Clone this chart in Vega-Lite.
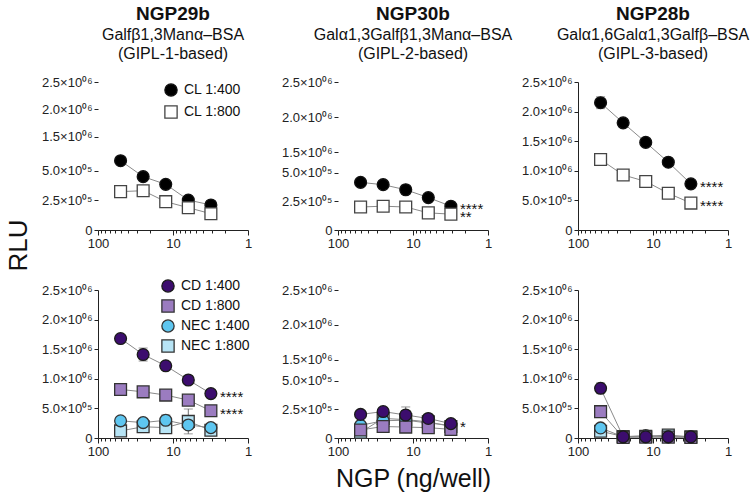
{
  "$schema": "https://vega.github.io/schema/vega-lite/v6.json",
  "background": "white",
  "padding": 5,
  "config": {
    "font": "Liberation Sans",
    "view": {"stroke": null},
    "axis": {"grid": false, "domainColor": "#222", "tickColor": "#222", "labelColor": "#222", "labelFont": "Liberation Sans", "titleColor": "#111", "titleFont": "Liberation Sans", "titleFontWeight": "normal"},
    "legend": {"labelFont": "Liberation Sans"}
  },
  "data": {"values": [
    {"ngp":"NGP29b","grp":"CL","series":"CL 1:400","ng":50,"rlu":587000,"sem":0,"sig":""},
    {"ngp":"NGP29b","grp":"CL","series":"CL 1:400","ng":25,"rlu":452000,"sem":0,"sig":""},
    {"ngp":"NGP29b","grp":"CL","series":"CL 1:400","ng":12.5,"rlu":387000,"sem":0,"sig":""},
    {"ngp":"NGP29b","grp":"CL","series":"CL 1:400","ng":6.25,"rlu":254000,"sem":0,"sig":""},
    {"ngp":"NGP29b","grp":"CL","series":"CL 1:400","ng":3.125,"rlu":212000,"sem":0,"sig":""},
    {"ngp":"NGP29b","grp":"CL","series":"CL 1:800","ng":50,"rlu":325000,"sem":0,"sig":""},
    {"ngp":"NGP29b","grp":"CL","series":"CL 1:800","ng":25,"rlu":333000,"sem":0,"sig":""},
    {"ngp":"NGP29b","grp":"CL","series":"CL 1:800","ng":12.5,"rlu":240000,"sem":0,"sig":""},
    {"ngp":"NGP29b","grp":"CL","series":"CL 1:800","ng":6.25,"rlu":189000,"sem":0,"sig":""},
    {"ngp":"NGP29b","grp":"CL","series":"CL 1:800","ng":3.125,"rlu":138000,"sem":0,"sig":""},

    {"ngp":"NGP30b","grp":"CL","series":"CL 1:400","ng":50,"rlu":414000,"sem":0,"sig":""},
    {"ngp":"NGP30b","grp":"CL","series":"CL 1:400","ng":25,"rlu":394000,"sem":0,"sig":""},
    {"ngp":"NGP30b","grp":"CL","series":"CL 1:400","ng":12.5,"rlu":350000,"sem":40000,"sig":""},
    {"ngp":"NGP30b","grp":"CL","series":"CL 1:400","ng":6.25,"rlu":282000,"sem":0,"sig":""},
    {"ngp":"NGP30b","grp":"CL","series":"CL 1:400","ng":3.125,"rlu":207000,"sem":0,"sig":"****"},
    {"ngp":"NGP30b","grp":"CL","series":"CL 1:800","ng":50,"rlu":200000,"sem":0,"sig":""},
    {"ngp":"NGP30b","grp":"CL","series":"CL 1:800","ng":25,"rlu":207000,"sem":0,"sig":""},
    {"ngp":"NGP30b","grp":"CL","series":"CL 1:800","ng":12.5,"rlu":200000,"sem":15000,"sig":""},
    {"ngp":"NGP30b","grp":"CL","series":"CL 1:800","ng":6.25,"rlu":149000,"sem":0,"sig":""},
    {"ngp":"NGP30b","grp":"CL","series":"CL 1:800","ng":3.125,"rlu":138000,"sem":0,"sig":"**"},

    {"ngp":"NGP28b","grp":"CL","series":"CL 1:400","ng":50,"rlu":2150000,"sem":100000,"sig":""},
    {"ngp":"NGP28b","grp":"CL","series":"CL 1:400","ng":25,"rlu":1810000,"sem":0,"sig":""},
    {"ngp":"NGP28b","grp":"CL","series":"CL 1:400","ng":12.5,"rlu":1480000,"sem":70000,"sig":""},
    {"ngp":"NGP28b","grp":"CL","series":"CL 1:400","ng":6.25,"rlu":1145000,"sem":0,"sig":""},
    {"ngp":"NGP28b","grp":"CL","series":"CL 1:400","ng":3.125,"rlu":780000,"sem":0,"sig":"****"},
    {"ngp":"NGP28b","grp":"CL","series":"CL 1:800","ng":50,"rlu":1190000,"sem":0,"sig":""},
    {"ngp":"NGP28b","grp":"CL","series":"CL 1:800","ng":25,"rlu":930000,"sem":0,"sig":""},
    {"ngp":"NGP28b","grp":"CL","series":"CL 1:800","ng":12.5,"rlu":820000,"sem":0,"sig":""},
    {"ngp":"NGP28b","grp":"CL","series":"CL 1:800","ng":6.25,"rlu":620000,"sem":0,"sig":""},
    {"ngp":"NGP28b","grp":"CL","series":"CL 1:800","ng":3.125,"rlu":455000,"sem":0,"sig":"****"},

    {"ngp":"NGP29b","grp":"CDNEC","series":"NEC 1:800","ng":50,"rlu":120000,"sem":0,"sig":""},
    {"ngp":"NGP29b","grp":"CDNEC","series":"NEC 1:800","ng":25,"rlu":190000,"sem":0,"sig":""},
    {"ngp":"NGP29b","grp":"CDNEC","series":"NEC 1:800","ng":12.5,"rlu":175000,"sem":0,"sig":""},
    {"ngp":"NGP29b","grp":"CDNEC","series":"NEC 1:800","ng":6.25,"rlu":280000,"sem":210000,"sig":""},
    {"ngp":"NGP29b","grp":"CDNEC","series":"NEC 1:800","ng":3.125,"rlu":130000,"sem":0,"sig":""},
    {"ngp":"NGP29b","grp":"CDNEC","series":"NEC 1:400","ng":50,"rlu":290000,"sem":0,"sig":""},
    {"ngp":"NGP29b","grp":"CDNEC","series":"NEC 1:400","ng":25,"rlu":260000,"sem":0,"sig":""},
    {"ngp":"NGP29b","grp":"CDNEC","series":"NEC 1:400","ng":12.5,"rlu":300000,"sem":90000,"sig":""},
    {"ngp":"NGP29b","grp":"CDNEC","series":"NEC 1:400","ng":6.25,"rlu":220000,"sem":0,"sig":""},
    {"ngp":"NGP29b","grp":"CDNEC","series":"NEC 1:400","ng":3.125,"rlu":175000,"sem":0,"sig":""},
    {"ngp":"NGP29b","grp":"CDNEC","series":"CD 1:800","ng":50,"rlu":820000,"sem":0,"sig":""},
    {"ngp":"NGP29b","grp":"CDNEC","series":"CD 1:800","ng":25,"rlu":780000,"sem":0,"sig":""},
    {"ngp":"NGP29b","grp":"CDNEC","series":"CD 1:800","ng":12.5,"rlu":725000,"sem":0,"sig":""},
    {"ngp":"NGP29b","grp":"CDNEC","series":"CD 1:800","ng":6.25,"rlu":640000,"sem":0,"sig":""},
    {"ngp":"NGP29b","grp":"CDNEC","series":"CD 1:800","ng":3.125,"rlu":460000,"sem":0,"sig":"****"},
    {"ngp":"NGP29b","grp":"CDNEC","series":"CD 1:400","ng":50,"rlu":1680000,"sem":60000,"sig":""},
    {"ngp":"NGP29b","grp":"CDNEC","series":"CD 1:400","ng":25,"rlu":1410000,"sem":110000,"sig":""},
    {"ngp":"NGP29b","grp":"CDNEC","series":"CD 1:400","ng":12.5,"rlu":1220000,"sem":0,"sig":""},
    {"ngp":"NGP29b","grp":"CDNEC","series":"CD 1:400","ng":6.25,"rlu":980000,"sem":0,"sig":""},
    {"ngp":"NGP29b","grp":"CDNEC","series":"CD 1:400","ng":3.125,"rlu":750000,"sem":0,"sig":"****"},

    {"ngp":"NGP30b","grp":"CDNEC","series":"NEC 1:800","ng":50,"rlu":50000,"sem":0,"sig":""},
    {"ngp":"NGP30b","grp":"CDNEC","series":"NEC 1:800","ng":25,"rlu":170000,"sem":0,"sig":""},
    {"ngp":"NGP30b","grp":"CDNEC","series":"NEC 1:800","ng":12.5,"rlu":160000,"sem":0,"sig":""},
    {"ngp":"NGP30b","grp":"CDNEC","series":"NEC 1:800","ng":6.25,"rlu":140000,"sem":0,"sig":""},
    {"ngp":"NGP30b","grp":"CDNEC","series":"NEC 1:800","ng":3.125,"rlu":100000,"sem":0,"sig":""},
    {"ngp":"NGP30b","grp":"CDNEC","series":"NEC 1:400","ng":50,"rlu":110000,"sem":0,"sig":""},
    {"ngp":"NGP30b","grp":"CDNEC","series":"NEC 1:400","ng":25,"rlu":150000,"sem":0,"sig":""},
    {"ngp":"NGP30b","grp":"CDNEC","series":"NEC 1:400","ng":12.5,"rlu":155000,"sem":0,"sig":""},
    {"ngp":"NGP30b","grp":"CDNEC","series":"NEC 1:400","ng":6.25,"rlu":130000,"sem":0,"sig":""},
    {"ngp":"NGP30b","grp":"CDNEC","series":"NEC 1:400","ng":3.125,"rlu":110000,"sem":0,"sig":""},
    {"ngp":"NGP30b","grp":"CDNEC","series":"CD 1:800","ng":50,"rlu":70000,"sem":0,"sig":""},
    {"ngp":"NGP30b","grp":"CDNEC","series":"CD 1:800","ng":25,"rlu":100000,"sem":0,"sig":""},
    {"ngp":"NGP30b","grp":"CDNEC","series":"CD 1:800","ng":12.5,"rlu":95000,"sem":0,"sig":""},
    {"ngp":"NGP30b","grp":"CDNEC","series":"CD 1:800","ng":6.25,"rlu":90000,"sem":0,"sig":""},
    {"ngp":"NGP30b","grp":"CDNEC","series":"CD 1:800","ng":3.125,"rlu":75000,"sem":0,"sig":""},
    {"ngp":"NGP30b","grp":"CDNEC","series":"CD 1:400","ng":50,"rlu":205000,"sem":0,"sig":""},
    {"ngp":"NGP30b","grp":"CDNEC","series":"CD 1:400","ng":25,"rlu":230000,"sem":0,"sig":""},
    {"ngp":"NGP30b","grp":"CDNEC","series":"CD 1:400","ng":12.5,"rlu":200000,"sem":70000,"sig":""},
    {"ngp":"NGP30b","grp":"CDNEC","series":"CD 1:400","ng":6.25,"rlu":170000,"sem":0,"sig":""},
    {"ngp":"NGP30b","grp":"CDNEC","series":"CD 1:400","ng":3.125,"rlu":125000,"sem":0,"sig":"*"},

    {"ngp":"NGP28b","grp":"CDNEC","series":"NEC 1:800","ng":50,"rlu":115000,"sem":0,"sig":""},
    {"ngp":"NGP28b","grp":"CDNEC","series":"NEC 1:800","ng":25,"rlu":25000,"sem":0,"sig":""},
    {"ngp":"NGP28b","grp":"CDNEC","series":"NEC 1:800","ng":12.5,"rlu":30000,"sem":0,"sig":""},
    {"ngp":"NGP28b","grp":"CDNEC","series":"NEC 1:800","ng":6.25,"rlu":50000,"sem":0,"sig":""},
    {"ngp":"NGP28b","grp":"CDNEC","series":"NEC 1:800","ng":3.125,"rlu":20000,"sem":0,"sig":""},
    {"ngp":"NGP28b","grp":"CDNEC","series":"NEC 1:400","ng":50,"rlu":170000,"sem":0,"sig":""},
    {"ngp":"NGP28b","grp":"CDNEC","series":"NEC 1:400","ng":25,"rlu":20000,"sem":0,"sig":""},
    {"ngp":"NGP28b","grp":"CDNEC","series":"NEC 1:400","ng":12.5,"rlu":40000,"sem":0,"sig":""},
    {"ngp":"NGP28b","grp":"CDNEC","series":"NEC 1:400","ng":6.25,"rlu":20000,"sem":0,"sig":""},
    {"ngp":"NGP28b","grp":"CDNEC","series":"NEC 1:400","ng":3.125,"rlu":20000,"sem":0,"sig":""},
    {"ngp":"NGP28b","grp":"CDNEC","series":"CD 1:800","ng":50,"rlu":445000,"sem":0,"sig":""},
    {"ngp":"NGP28b","grp":"CDNEC","series":"CD 1:800","ng":25,"rlu":10000,"sem":0,"sig":""},
    {"ngp":"NGP28b","grp":"CDNEC","series":"CD 1:800","ng":12.5,"rlu":15000,"sem":0,"sig":""},
    {"ngp":"NGP28b","grp":"CDNEC","series":"CD 1:800","ng":6.25,"rlu":15000,"sem":0,"sig":""},
    {"ngp":"NGP28b","grp":"CDNEC","series":"CD 1:800","ng":3.125,"rlu":10000,"sem":0,"sig":""},
    {"ngp":"NGP28b","grp":"CDNEC","series":"CD 1:400","ng":50,"rlu":840000,"sem":90000,"sig":""},
    {"ngp":"NGP28b","grp":"CDNEC","series":"CD 1:400","ng":25,"rlu":20000,"sem":0,"sig":""},
    {"ngp":"NGP28b","grp":"CDNEC","series":"CD 1:400","ng":12.5,"rlu":20000,"sem":0,"sig":""},
    {"ngp":"NGP28b","grp":"CDNEC","series":"CD 1:400","ng":6.25,"rlu":20000,"sem":0,"sig":""},
    {"ngp":"NGP28b","grp":"CDNEC","series":"CD 1:400","ng":3.125,"rlu":20000,"sem":0,"sig":""}
  ]},
  "columns": 3,
  "spacing": {"row": 60, "column": 90},
  "bounds": "flush",
  "resolve": {"scale": {"fill": "independent", "shape": "independent", "stroke": "independent"}, "legend": {"fill": "independent", "shape": "independent", "stroke": "independent"}},
  "concat": [
    {
      "width": 150, "height": 148,
      "title": {"text": "NGP29b", "subtitle": ["Galfβ1,3Manα–BSA", "(GIPL-1-based)"], "fontSize": 19, "fontWeight": "bold", "subtitleFontSize": 16, "subtitlePadding": 3, "subtitleLineHeight": 19, "anchor": "middle", "frame": "group", "offset": 14, "color": "#111", "subtitleColor": "#111", "font": "Liberation Sans", "subtitleFont": "Liberation Sans"},
      "encoding": {
        "x": {"field": "ng", "type": "quantitative", "scale": {"type": "log", "domain": [1, 100], "reverse": true, "nice": false}, "axis": {"values": [1,2,3,4,5,6,7,8,9,10,20,30,40,50,60,70,80,90,100], "labelExpr": "datum.value==100?'100':datum.value==10?'10':datum.value==1?'1':''", "labelFlush": false, "labelOverlap": false, "labelFontSize": 13, "labelPadding": 2, "tickSize": {"condition": {"test": "datum.value==1||datum.value==10||datum.value==100", "value": 5}, "value": 3}, "title": null}},
        "y": {"field": "rlu", "type": "quantitative", "scale": {"domain": [0, 610000, 1240000, 2500000], "range": [148, 76, 69, 0], "nice": false, "zero": false}, "axis": {"values": [0, 250000, 500000, 1500000, 2000000, 2500000], "labelExpr": "datum.value==0?'0':datum.value>=1000000?format(datum.value/1000000,'.1f')+'×10⁰⁶':format(datum.value/100000,'.1f')+'×10⁰⁵'", "domain": false, "tickSize": 4, "labelFontSize": 13, "labelPadding": 2, "labelFlush": false, "labelOverlap": false, "title": "RLU", "titleFontSize": 26, "titleX": -80, "titleY": 163, "titleAlign": "center", "titleBaseline": "middle", "titleAngle": 270}}
      },
      "layer": [
        {"data": {"values": [{"rlu": 0, "rlu2": 610000}, {"rlu": 1240000, "rlu2": 2500000}]}, "mark": {"type": "rule", "color": "#222", "strokeWidth": 1}, "encoding": {"x": {"datum": 100}, "y2": {"field": "rlu2"}}},
        {"data": {"values": [{"rlu": 610000}, {"rlu": 1240000}]}, "mark": {"type": "tick", "orient": "horizontal", "color": "#222", "size": 7, "thickness": 1}, "encoding": {"x": {"datum": 100}}},
        {"transform": [{"filter": "datum.ngp=='NGP29b'&&datum.grp=='CL'"}], "mark": {"type": "line", "color": "#8a8a8a", "strokeWidth": 1}, "encoding": {"detail": {"field": "series"}}},
        {"transform": [{"filter": "datum.ngp=='NGP29b'&&datum.grp=='CL'&&datum.sem>0"}], "mark": {"type": "errorbar", "ticks": true, "size": 9, "thickness": 1, "color": "#6e6e6e"}, "encoding": {"yError": {"field": "sem"}}},
        {"transform": [{"filter": "datum.ngp=='NGP29b'&&datum.grp=='CL'"}], "mark": {"type": "point", "filled": true, "size": 140, "strokeWidth": 1.3, "opacity": 1},
         "encoding": {
           "shape": {"field": "series", "type": "nominal", "scale": {"domain": ["CL 1:400", "CL 1:800"], "range": ["circle", "square"]}, "legend": {"orient": "none", "legendX": 66, "legendY": 1, "title": null, "labelFontSize": 14, "labelColor": "#111", "symbolSize": 150, "rowPadding": 4, "labelOffset": 6, "symbolStrokeWidth": 1.3}},
           "fill": {"field": "series", "type": "nominal", "scale": {"domain": ["CL 1:400", "CL 1:800"], "range": ["#000000", "#ffffff"]}, "legend": {"orient": "none", "legendX": 66, "legendY": 1, "title": null, "labelFontSize": 14, "labelColor": "#111", "symbolSize": 150, "rowPadding": 4, "labelOffset": 6, "symbolStrokeWidth": 1.3}},
           "stroke": {"field": "series", "type": "nominal", "scale": {"domain": ["CL 1:400", "CL 1:800"], "range": ["#111111", "#444444"]}, "legend": {"orient": "none", "legendX": 66, "legendY": 1, "title": null, "labelFontSize": 14, "labelColor": "#111", "symbolSize": 150, "rowPadding": 4, "labelOffset": 6, "symbolStrokeWidth": 1.3}}
         }},
        {"transform": [{"filter": "datum.ngp=='NGP29b'&&datum.grp=='CL'&&datum.sig!=''"}], "mark": {"type": "text", "align": "left", "baseline": "middle", "dx": 9, "dy": 3, "fontSize": 15, "color": "#111"}, "encoding": {"text": {"field": "sig"}}}
      ]
    },
    {
      "width": 150, "height": 148,
      "title": {"text": "NGP30b", "subtitle": ["Galα1,3Galfβ1,3Manα–BSA", "(GIPL-2-based)"], "fontSize": 19, "fontWeight": "bold", "subtitleFontSize": 16, "subtitlePadding": 3, "subtitleLineHeight": 19, "anchor": "middle", "frame": "group", "offset": 14, "color": "#111", "subtitleColor": "#111", "font": "Liberation Sans", "subtitleFont": "Liberation Sans"},
      "encoding": {
        "x": {"field": "ng", "type": "quantitative", "scale": {"type": "log", "domain": [1, 100], "reverse": true, "nice": false}, "axis": {"values": [1,2,3,4,5,6,7,8,9,10,20,30,40,50,60,70,80,90,100], "labelExpr": "datum.value==100?'100':datum.value==10?'10':datum.value==1?'1':''", "labelFlush": false, "labelOverlap": false, "labelFontSize": 13, "labelPadding": 2, "tickSize": {"condition": {"test": "datum.value==1||datum.value==10||datum.value==100", "value": 5}, "value": 3}, "title": null}},
        "y": {"field": "rlu", "type": "quantitative", "scale": {"domain": [0, 600000, 1500000, 2500000], "range": [148, 79, 70, 0], "nice": false, "zero": false}, "axis": {"values": [0, 250000, 500000, 1500000, 2000000, 2500000], "labelExpr": "datum.value==0?'0':datum.value>=1000000?format(datum.value/1000000,'.1f')+'×10⁰⁶':format(datum.value/100000,'.1f')+'×10⁰⁵'", "domain": false, "tickSize": 4, "labelFontSize": 13, "labelPadding": 2, "labelFlush": false, "labelOverlap": false, "title": null}}
      },
      "layer": [
        {"data": {"values": [{"rlu": 0, "rlu2": 600000}, {"rlu": 1500000, "rlu2": 2500000}]}, "mark": {"type": "rule", "color": "#222", "strokeWidth": 1}, "encoding": {"x": {"datum": 100}, "y2": {"field": "rlu2"}}},
        {"data": {"values": [{"rlu": 600000}, {"rlu": 1500000}]}, "mark": {"type": "tick", "orient": "horizontal", "color": "#222", "size": 7, "thickness": 1}, "encoding": {"x": {"datum": 100}}},
        {"transform": [{"filter": "datum.ngp=='NGP30b'&&datum.grp=='CL'"}], "mark": {"type": "line", "color": "#8a8a8a", "strokeWidth": 1}, "encoding": {"detail": {"field": "series"}}},
        {"transform": [{"filter": "datum.ngp=='NGP30b'&&datum.grp=='CL'&&datum.sem>0"}], "mark": {"type": "errorbar", "ticks": true, "size": 9, "thickness": 1, "color": "#6e6e6e"}, "encoding": {"yError": {"field": "sem"}}},
        {"transform": [{"filter": "datum.ngp=='NGP30b'&&datum.grp=='CL'"}], "mark": {"type": "point", "filled": true, "size": 140, "strokeWidth": 1.3, "opacity": 1},
         "encoding": {
           "shape": {"field": "series", "type": "nominal", "scale": {"domain": ["CL 1:400", "CL 1:800"], "range": ["circle", "square"]}, "legend": null},
           "fill": {"field": "series", "type": "nominal", "scale": {"domain": ["CL 1:400", "CL 1:800"], "range": ["#000000", "#ffffff"]}, "legend": null},
           "stroke": {"field": "series", "type": "nominal", "scale": {"domain": ["CL 1:400", "CL 1:800"], "range": ["#111111", "#444444"]}, "legend": null}
         }},
        {"transform": [{"filter": "datum.ngp=='NGP30b'&&datum.grp=='CL'&&datum.sig!=''"}], "mark": {"type": "text", "align": "left", "baseline": "middle", "dx": 9, "dy": 3, "fontSize": 15, "color": "#111"}, "encoding": {"text": {"field": "sig"}}}
      ]
    },
    {
      "width": 150, "height": 148,
      "title": {"text": "NGP28b", "subtitle": ["Galα1,6Galα1,3Galfβ–BSA", "(GIPL-3-based)"], "fontSize": 19, "fontWeight": "bold", "subtitleFontSize": 16, "subtitlePadding": 3, "subtitleLineHeight": 19, "anchor": "middle", "frame": "group", "offset": 14, "color": "#111", "subtitleColor": "#111", "font": "Liberation Sans", "subtitleFont": "Liberation Sans"},
      "encoding": {
        "x": {"field": "ng", "type": "quantitative", "scale": {"type": "log", "domain": [1, 100], "reverse": true, "nice": false}, "axis": {"values": [1,2,3,4,5,6,7,8,9,10,20,30,40,50,60,70,80,90,100], "labelExpr": "datum.value==100?'100':datum.value==10?'10':datum.value==1?'1':''", "labelFlush": false, "labelOverlap": false, "labelFontSize": 13, "labelPadding": 2, "tickSize": {"condition": {"test": "datum.value==1||datum.value==10||datum.value==100", "value": 5}, "value": 3}, "title": null}},
        "y": {"field": "rlu", "type": "quantitative", "scale": {"domain": [0, 2500000], "nice": false, "zero": true}, "axis": {"values": [0, 500000, 1000000, 1500000, 2000000, 2500000], "labelExpr": "datum.value==0?'0':datum.value>=1000000?format(datum.value/1000000,'.1f')+'×10⁰⁶':format(datum.value/100000,'.1f')+'×10⁰⁵'", "tickSize": 4, "labelFontSize": 13, "labelPadding": 2, "labelFlush": false, "labelOverlap": false, "title": null}}
      },
      "layer": [
        {"transform": [{"filter": "datum.ngp=='NGP28b'&&datum.grp=='CL'"}], "mark": {"type": "line", "color": "#8a8a8a", "strokeWidth": 1}, "encoding": {"detail": {"field": "series"}}},
        {"transform": [{"filter": "datum.ngp=='NGP28b'&&datum.grp=='CL'&&datum.sem>0"}], "mark": {"type": "errorbar", "ticks": true, "size": 9, "thickness": 1, "color": "#6e6e6e"}, "encoding": {"yError": {"field": "sem"}}},
        {"transform": [{"filter": "datum.ngp=='NGP28b'&&datum.grp=='CL'"}], "mark": {"type": "point", "filled": true, "size": 140, "strokeWidth": 1.3, "opacity": 1},
         "encoding": {
           "shape": {"field": "series", "type": "nominal", "scale": {"domain": ["CL 1:400", "CL 1:800"], "range": ["circle", "square"]}, "legend": null},
           "fill": {"field": "series", "type": "nominal", "scale": {"domain": ["CL 1:400", "CL 1:800"], "range": ["#000000", "#ffffff"]}, "legend": null},
           "stroke": {"field": "series", "type": "nominal", "scale": {"domain": ["CL 1:400", "CL 1:800"], "range": ["#111111", "#444444"]}, "legend": null}
         }},
        {"transform": [{"filter": "datum.ngp=='NGP28b'&&datum.grp=='CL'&&datum.sig!=''"}], "mark": {"type": "text", "align": "left", "baseline": "middle", "dx": 9, "dy": 3, "fontSize": 15, "color": "#111"}, "encoding": {"text": {"field": "sig"}}}
      ]
    },
    {
      "width": 150, "height": 148,
      "encoding": {
        "x": {"field": "ng", "type": "quantitative", "scale": {"type": "log", "domain": [1, 100], "reverse": true, "nice": false}, "axis": {"values": [1,2,3,4,5,6,7,8,9,10,20,30,40,50,60,70,80,90,100], "labelExpr": "datum.value==100?'100':datum.value==10?'10':datum.value==1?'1':''", "labelFlush": false, "labelOverlap": false, "labelFontSize": 13, "labelPadding": 2, "tickSize": {"condition": {"test": "datum.value==1||datum.value==10||datum.value==100", "value": 5}, "value": 3}, "title": null}},
        "y": {"field": "rlu", "type": "quantitative", "scale": {"domain": [0, 2500000], "nice": false, "zero": true}, "axis": {"values": [0, 500000, 1000000, 1500000, 2000000, 2500000], "labelExpr": "datum.value==0?'0':datum.value>=1000000?format(datum.value/1000000,'.1f')+'×10⁰⁶':format(datum.value/100000,'.1f')+'×10⁰⁵'", "tickSize": 4, "labelFontSize": 13, "labelPadding": 2, "labelFlush": false, "labelOverlap": false, "title": null}}
      },
      "layer": [
        {"transform": [{"filter": "datum.ngp=='NGP29b'&&datum.grp=='CDNEC'"}], "mark": {"type": "line", "color": "#8a8a8a", "strokeWidth": 1}, "encoding": {"detail": {"field": "series"}}},
        {"transform": [{"filter": "datum.ngp=='NGP29b'&&datum.grp=='CDNEC'&&datum.sem>0"}], "mark": {"type": "errorbar", "ticks": true, "size": 9, "thickness": 1, "color": "#6e6e6e"}, "encoding": {"yError": {"field": "sem"}}},
        {"transform": [{"filter": "datum.ngp=='NGP29b'&&datum.grp=='CDNEC'"}], "mark": {"type": "point", "filled": true, "size": 140, "strokeWidth": 1.3, "opacity": 1},
         "encoding": {
           "shape": {"field": "series", "type": "nominal", "scale": {"domain": ["CD 1:400", "CD 1:800", "NEC 1:400", "NEC 1:800"], "range": ["circle", "square", "circle", "square"]}, "legend": {"orient": "none", "legendX": 63, "legendY": -11, "title": null, "labelFontSize": 14, "labelColor": "#111", "symbolSize": 150, "rowPadding": 2, "labelOffset": 6, "symbolStrokeWidth": 1.3}},
           "fill": {"field": "series", "type": "nominal", "scale": {"domain": ["CD 1:400", "CD 1:800", "NEC 1:400", "NEC 1:800"], "range": ["#3c0d6e", "#9b7cc0", "#5ec6f0", "#b7e4f5"]}, "legend": {"orient": "none", "legendX": 63, "legendY": -11, "title": null, "labelFontSize": 14, "labelColor": "#111", "symbolSize": 150, "rowPadding": 2, "labelOffset": 6, "symbolStrokeWidth": 1.3}},
           "stroke": {"field": "series", "type": "nominal", "scale": {"domain": ["CD 1:400", "CD 1:800", "NEC 1:400", "NEC 1:800"], "range": ["#1a1a1a", "#333333", "#333333", "#333333"]}, "legend": {"orient": "none", "legendX": 63, "legendY": -11, "title": null, "labelFontSize": 14, "labelColor": "#111", "symbolSize": 150, "rowPadding": 2, "labelOffset": 6, "symbolStrokeWidth": 1.3}}
         }},
        {"transform": [{"filter": "datum.ngp=='NGP29b'&&datum.grp=='CDNEC'&&datum.sig!=''"}], "mark": {"type": "text", "align": "left", "baseline": "middle", "dx": 9, "dy": 3, "fontSize": 15, "color": "#111"}, "encoding": {"text": {"field": "sig"}}}
      ]
    },
    {
      "width": 150, "height": 148,
      "encoding": {
        "x": {"field": "ng", "type": "quantitative", "scale": {"type": "log", "domain": [1, 100], "reverse": true, "nice": false}, "axis": {"values": [1,2,3,4,5,6,7,8,9,10,20,30,40,50,60,70,80,90,100], "labelExpr": "datum.value==100?'100':datum.value==10?'10':datum.value==1?'1':''", "labelFlush": false, "labelOverlap": false, "labelFontSize": 13, "labelPadding": 2, "tickSize": {"condition": {"test": "datum.value==1||datum.value==10||datum.value==100", "value": 5}, "value": 3}, "title": "NGP (ng/well)", "titleFontSize": 25, "titlePadding": 8}},
        "y": {"field": "rlu", "type": "quantitative", "scale": {"domain": [0, 600000, 1480000, 2500000], "range": [148, 79, 71, 0], "nice": false, "zero": false}, "axis": {"values": [0, 250000, 500000, 1500000, 2000000, 2500000], "labelExpr": "datum.value==0?'0':datum.value>=1000000?format(datum.value/1000000,'.1f')+'×10⁰⁶':format(datum.value/100000,'.1f')+'×10⁰⁵'", "domain": false, "tickSize": 4, "labelFontSize": 13, "labelPadding": 2, "labelFlush": false, "labelOverlap": false, "title": null}}
      },
      "layer": [
        {"data": {"values": [{"rlu": 0, "rlu2": 600000}, {"rlu": 1480000, "rlu2": 2500000}]}, "mark": {"type": "rule", "color": "#222", "strokeWidth": 1}, "encoding": {"x": {"datum": 100}, "y2": {"field": "rlu2"}}},
        {"data": {"values": [{"rlu": 600000}, {"rlu": 1480000}]}, "mark": {"type": "tick", "orient": "horizontal", "color": "#222", "size": 7, "thickness": 1}, "encoding": {"x": {"datum": 100}}},
        {"transform": [{"filter": "datum.ngp=='NGP30b'&&datum.grp=='CDNEC'"}], "mark": {"type": "line", "color": "#8a8a8a", "strokeWidth": 1}, "encoding": {"detail": {"field": "series"}}},
        {"transform": [{"filter": "datum.ngp=='NGP30b'&&datum.grp=='CDNEC'&&datum.sem>0"}], "mark": {"type": "errorbar", "ticks": true, "size": 9, "thickness": 1, "color": "#6e6e6e"}, "encoding": {"yError": {"field": "sem"}}},
        {"transform": [{"filter": "datum.ngp=='NGP30b'&&datum.grp=='CDNEC'"}], "mark": {"type": "point", "filled": true, "size": 140, "strokeWidth": 1.3, "opacity": 1},
         "encoding": {
           "shape": {"field": "series", "type": "nominal", "scale": {"domain": ["CD 1:400", "CD 1:800", "NEC 1:400", "NEC 1:800"], "range": ["circle", "square", "circle", "square"]}, "legend": null},
           "fill": {"field": "series", "type": "nominal", "scale": {"domain": ["CD 1:400", "CD 1:800", "NEC 1:400", "NEC 1:800"], "range": ["#3c0d6e", "#9b7cc0", "#5ec6f0", "#b7e4f5"]}, "legend": null},
           "stroke": {"field": "series", "type": "nominal", "scale": {"domain": ["CD 1:400", "CD 1:800", "NEC 1:400", "NEC 1:800"], "range": ["#1a1a1a", "#333333", "#333333", "#333333"]}, "legend": null}
         }},
        {"transform": [{"filter": "datum.ngp=='NGP30b'&&datum.grp=='CDNEC'&&datum.sig!=''"}], "mark": {"type": "text", "align": "left", "baseline": "middle", "dx": 9, "dy": 3, "fontSize": 15, "color": "#111"}, "encoding": {"text": {"field": "sig"}}}
      ]
    },
    {
      "width": 150, "height": 148,
      "encoding": {
        "x": {"field": "ng", "type": "quantitative", "scale": {"type": "log", "domain": [1, 100], "reverse": true, "nice": false}, "axis": {"values": [1,2,3,4,5,6,7,8,9,10,20,30,40,50,60,70,80,90,100], "labelExpr": "datum.value==100?'100':datum.value==10?'10':datum.value==1?'1':''", "labelFlush": false, "labelOverlap": false, "labelFontSize": 13, "labelPadding": 2, "tickSize": {"condition": {"test": "datum.value==1||datum.value==10||datum.value==100", "value": 5}, "value": 3}, "title": null}},
        "y": {"field": "rlu", "type": "quantitative", "scale": {"domain": [0, 2500000], "nice": false, "zero": true}, "axis": {"values": [0, 500000, 1000000, 1500000, 2000000, 2500000], "labelExpr": "datum.value==0?'0':datum.value>=1000000?format(datum.value/1000000,'.1f')+'×10⁰⁶':format(datum.value/100000,'.1f')+'×10⁰⁵'", "tickSize": 4, "labelFontSize": 13, "labelPadding": 2, "labelFlush": false, "labelOverlap": false, "title": null}}
      },
      "layer": [
        {"transform": [{"filter": "datum.ngp=='NGP28b'&&datum.grp=='CDNEC'"}], "mark": {"type": "line", "color": "#8a8a8a", "strokeWidth": 1}, "encoding": {"detail": {"field": "series"}}},
        {"transform": [{"filter": "datum.ngp=='NGP28b'&&datum.grp=='CDNEC'&&datum.sem>0"}], "mark": {"type": "errorbar", "ticks": true, "size": 9, "thickness": 1, "color": "#6e6e6e"}, "encoding": {"yError": {"field": "sem"}}},
        {"transform": [{"filter": "datum.ngp=='NGP28b'&&datum.grp=='CDNEC'"}], "mark": {"type": "point", "filled": true, "size": 140, "strokeWidth": 1.3, "opacity": 1},
         "encoding": {
           "shape": {"field": "series", "type": "nominal", "scale": {"domain": ["CD 1:400", "CD 1:800", "NEC 1:400", "NEC 1:800"], "range": ["circle", "square", "circle", "square"]}, "legend": null},
           "fill": {"field": "series", "type": "nominal", "scale": {"domain": ["CD 1:400", "CD 1:800", "NEC 1:400", "NEC 1:800"], "range": ["#3c0d6e", "#9b7cc0", "#5ec6f0", "#b7e4f5"]}, "legend": null},
           "stroke": {"field": "series", "type": "nominal", "scale": {"domain": ["CD 1:400", "CD 1:800", "NEC 1:400", "NEC 1:800"], "range": ["#1a1a1a", "#333333", "#333333", "#333333"]}, "legend": null}
         }},
        {"transform": [{"filter": "datum.ngp=='NGP28b'&&datum.grp=='CDNEC'&&datum.sig!=''"}], "mark": {"type": "text", "align": "left", "baseline": "middle", "dx": 9, "dy": 3, "fontSize": 15, "color": "#111"}, "encoding": {"text": {"field": "sig"}}}
      ]
    }
  ]
}
